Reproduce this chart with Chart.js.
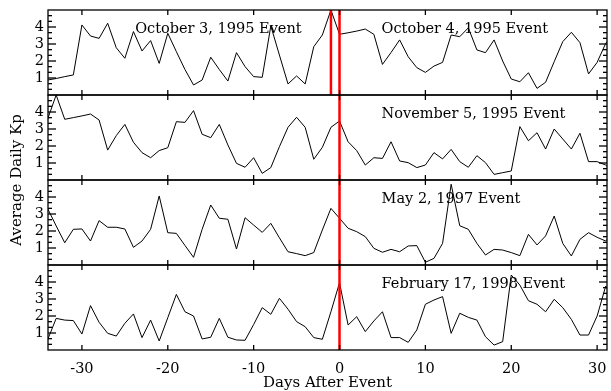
<!DOCTYPE html>
<html>
<head>
<meta charset="utf-8">
<script src="https://cdn.jsdelivr.net/npm/chart.js@4.4.1/dist/chart.umd.min.js"></script>
<style>
  html, body { margin: 0; padding: 0; background: #fff; }
</style>
</head>
<body>
<canvas id="kpChart" width="611" height="391"></canvas>
<script>
'use strict';

// days relative to each event
const days = [
    -34, -33, -32, -31, -30, -29, -28, -27, -26, -25,
    -24, -23, -22, -21, -20, -19, -18, -17, -16, -15,
    -14, -13, -12, -11, -10,  -9,  -8,  -7,  -6,  -5,
     -4,  -3,  -2,  -1,   0,   1,   2,   3,   4,   5,
      6,   7,   8,   9,  10,  11,  12,  13,  14,  15,
     16,  17,  18,  19,  20,  21,  22,  23,  24,  25,
     26,  27,  28,  29,  30,  31,  32
];

// average daily Kp, one array per event
const kpOct1995 = [
    0.88, 0.97, 1.08, 1.18, 4.12, 3.47, 3.33, 4.22, 2.78, 2.16,
    3.73, 2.59, 3.20, 1.86, 3.63, 2.55, 1.50, 0.59, 0.88, 2.22,
    1.50, 0.82, 2.49, 1.67, 1.08, 1.04, 4.06, 2.35, 0.65, 1.12,
    0.65, 2.84, 3.53, 5.00, 3.57, 3.66, 3.76, 3.88, 3.57, 1.80,
    2.50, 3.24, 2.25, 1.61, 1.33, 1.70, 1.92, 3.53, 3.43, 3.95,
    2.65, 2.49, 3.24, 2.00, 0.94, 0.78, 1.31, 0.39, 0.75, 1.96,
    3.14, 3.69, 3.08, 1.24, 1.92, 3.04, 3.60
];
const kpNov1995 = [
    3.57, 5.00, 3.57, 3.67, 3.77, 3.88, 3.53, 1.76, 2.61, 3.27,
    2.22, 1.61, 1.31, 1.73, 1.90, 3.43, 3.39, 4.08, 2.69, 2.49,
    3.27, 2.06, 0.98, 0.75, 1.31, 0.39, 0.73, 1.96, 3.10, 3.69,
    3.10, 1.22, 1.92, 3.10, 3.47, 2.25, 1.73, 0.88, 1.31, 1.27,
    2.25, 1.12, 1.02, 0.73, 0.88, 1.61, 1.24, 1.80, 1.08, 0.75,
    1.43, 1.02, 0.33, 0.43, 0.53, 3.14, 2.31, 2.78, 1.82, 3.00,
    2.41, 1.82, 2.75, 1.08, 1.08, 0.88, 0.40
];
const kpMay1997 = [
    3.33, 2.30, 1.31, 2.10, 2.12, 1.41, 2.61, 2.22, 2.22, 2.12,
    1.04, 1.41, 2.10, 4.06, 1.90, 1.86, 1.15, 0.45, 2.10, 3.53,
    2.75, 2.69, 0.94, 2.78, 2.35, 1.92, 2.45, 1.60, 0.78, 0.67,
    0.55, 0.73, 2.06, 3.33, 2.75, 2.16, 1.96, 1.67, 0.98, 0.75,
    0.92, 0.78, 1.12, 1.14, 0.16, 0.39, 1.27, 4.75, 2.31, 2.10,
    1.27, 0.59, 0.92, 0.88, 0.73, 0.55, 1.80, 1.18, 1.71, 2.88,
    1.27, 0.53, 1.51, 1.90, 1.63, 1.41, 2.00
];
const kpFeb1998 = [
    0.59, 1.86, 1.76, 1.73, 0.94, 2.61, 1.63, 0.98, 0.82, 1.57,
    2.12, 0.73, 1.76, 0.53, 1.90, 3.27, 2.25, 2.00, 0.65, 0.75,
    1.86, 0.75, 0.59, 0.57, 1.50, 2.49, 2.10, 3.04, 2.40, 1.67,
    1.37, 0.73, 0.63, 2.25, 3.96, 1.47, 1.96, 1.08, 1.71, 2.25,
    0.73, 0.73, 0.45, 1.18, 2.69, 2.94, 3.14, 0.98, 2.16, 1.92,
    1.76, 0.78, 0.29, 0.49, 4.41, 3.82, 2.90, 2.69, 2.25, 2.98,
    2.49, 1.80, 0.88, 0.88, 2.00, 3.76, 2.90
];

// event names and marked event days for each panel, top to bottom
const eventNames = [
    ['October 3, 1995 Event', 'October 4, 1995 Event'],
    ['November 5, 1995 Event'],
    ['May 2, 1997 Event'],
    ['February 17, 1998 Event']
];
const eventDays = [[-1, 0], [0], [0], [0]];

const xTickValues = [-30, -20, -10, 0, 10, 20, 30];
const yTickValues = [1, 2, 3, 4];

const X_MIN = -33.95, X_MAX = 31.15;
const Y_MIN = 0, Y_MAX = 5;
const FONT = 'DejaVu Serif';
const panelSeries = [kpOct1995, kpNov1995, kpMay1997, kpFeb1998];
const panelIds = ['y1', 'y2', 'y3', 'y4'];
// where each event name starts, in days
const labelStart = [[-23.8, 4.9], [4.9], [4.9], [4.9]];

const datasets = [];
panelSeries.forEach((series, i) => {
    datasets.push({
        type: 'line',
        data: days.map((d, j) => ({ x: d, y: series[j] })),
        borderColor: '#000',
        borderWidth: 1,
        pointRadius: 0,
        tension: 0,
        yAxisID: panelIds[i],
        order: 2
    });
    eventDays[i].forEach(d => {
        datasets.push({
            type: 'line',
            data: [{ x: d, y: Y_MIN }, { x: d, y: Y_MAX }],
            borderColor: '#ff0000',
            borderWidth: 2.5,
            pointRadius: 0,
            yAxisID: panelIds[i],
            order: 1
        });
    });
});

function panelAxis(weight) {
    return {
        type: 'linear',
        position: 'left',
        stack: 'kp',
        stackWeight: 1,
        weight: weight,
        min: Y_MIN,
        max: Y_MAX,
        grid: { display: false, drawTicks: false },
        border: { display: false },
        ticks: { font: { family: FONT, size: 14.5 }, color: '#000', padding: 4, autoSkip: false },
        afterBuildTicks: s => { s.ticks = yTickValues.map(v => ({ value: v })); },
        afterFit: s => { s.width = 48; s.paddingTop = 0; s.paddingBottom = 0; }
    };
}

const framePlugin = {
    id: 'frame',
    afterDraw(chart) {
        const { ctx, chartArea: a, scales } = chart;
        const xs = scales.x;
        const line = (x1, y1, x2, y2) => {
            ctx.beginPath(); ctx.moveTo(x1, y1); ctx.lineTo(x2, y2); ctx.stroke();
        };
        ctx.save();
        ctx.strokeStyle = '#000';
        ctx.lineWidth = 1.3;
        panelIds.forEach((id, i) => {
            const s = scales[id];
            ctx.strokeRect(a.left, s.top, a.right - a.left, s.bottom - s.top);
            for (let k = 1; k < 15; k++) {
                const py = s.getPixelForValue(k / 3);
                const len = k % 3 === 0 ? 8 : 4;
                line(a.left, py, a.left + len, py);
                line(a.right, py, a.right - len, py);
            }
            xTickValues.forEach(v => {
                const px = xs.getPixelForValue(v);
                line(px, s.top, px, s.top + 5);
                line(px, s.bottom, px, s.bottom - 5);
            });
            ctx.fillStyle = '#000';
            ctx.font = '14.5px "' + FONT + '"';
            ctx.textAlign = 'left';
            ctx.textBaseline = 'middle';
            eventNames[i].forEach((name, j) => {
                ctx.fillText(name, xs.getPixelForValue(labelStart[i][j]), s.top + 19);
            });
        });
        ctx.translate(17, (a.top + a.bottom) / 2);
        ctx.rotate(-Math.PI / 2);
        ctx.textAlign = 'center';
        ctx.font = '15px "' + FONT + '"';
        ctx.fillText('Average Daily Kp', 0, 0);
        ctx.restore();
    }
};

new Chart(document.getElementById('kpChart').getContext('2d'), {
    data: { datasets: datasets },
    options: {
        responsive: false,
        animation: false,
        layout: { padding: { top: 10, right: 4, left: 0, bottom: 0 } },
        plugins: { legend: { display: false }, tooltip: { enabled: false } },
        scales: {
            x: {
                type: 'linear',
                position: 'bottom',
                min: X_MIN,
                max: X_MAX,
                grid: { display: false, drawTicks: false },
                border: { display: false },
                afterBuildTicks: s => { s.ticks = xTickValues.map(v => ({ value: v })); },
                ticks: { font: { family: FONT, size: 14.5 }, color: '#000', padding: 11, maxRotation: 0, autoSkip: false },
                title: { display: true, text: 'Days After Event', color: '#000',
                         font: { family: FONT, size: 15 }, padding: { top: 0, bottom: -1 } },
                afterFit: s => { s.height = 41; s.paddingLeft = 0; s.paddingRight = 0; }
            },
            y1: panelAxis(4),
            y2: panelAxis(3),
            y3: panelAxis(2),
            y4: panelAxis(1)
        }
    },
    plugins: [framePlugin]
});
</script>
</body>
</html>
